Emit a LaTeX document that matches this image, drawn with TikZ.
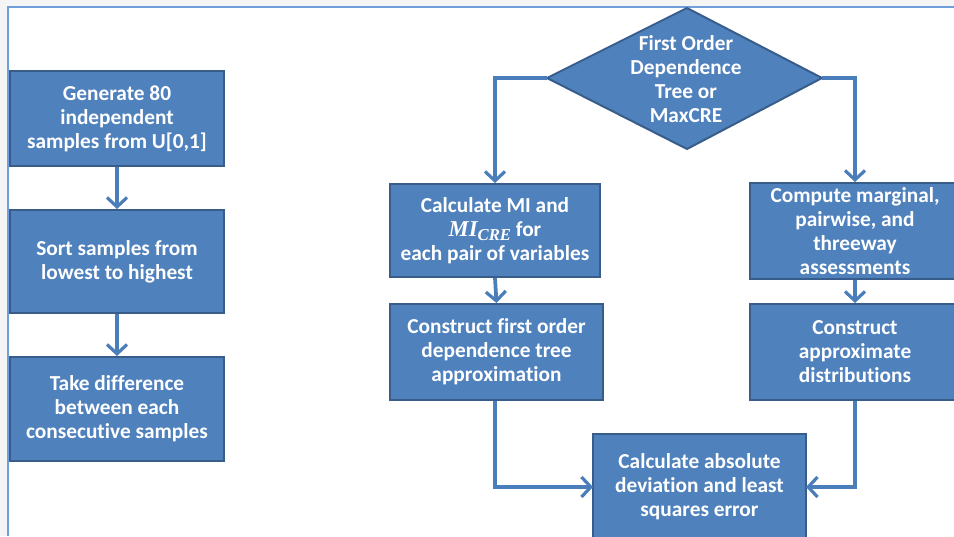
\documentclass[tikz,border=0pt]{standalone}
\usepackage{fontspec}
\setmainfont{Carlito}[Ligatures=NoCommon]
\newfontfamily\serifbi{Liberation Serif}
\usetikzlibrary{arrows.meta}
\definecolor{boxfill}{HTML}{4F81BD}
\definecolor{boxedge}{HTML}{385D8A}
\definecolor{linec}{HTML}{4A7EBB}
\definecolor{framec}{HTML}{6FA0DC}
\tikzset{
  boxtext/.style={text=white, font=\fontsize{16}{18}\selectfont\bfseries, align=center},
  box/.style={boxtext, draw=boxedge, line width=1.5pt, fill=boxfill, inner sep=0pt},
  conn/.style={draw=linec, line width=2.8pt, -{Straight Barb[length=7pt,width=15pt,line width=2.4pt]}},
}
\begin{document}
\begin{tikzpicture}[x=0.75pt,y=-0.75pt]
\useasboundingbox (0,0) rectangle (954,536);
\clip (0,0) rectangle (954,536);
\fill[white] (0,0) rectangle (954,536);
\fill[gray!8] (0,0) rectangle (954,6);
\fill[gray!8] (0,6) rectangle (7,536);
\draw[framec, line width=1.4pt] (8,536) -- (8,7) -- (960,7);
% left column
\node[box, minimum width=214*0.75pt, minimum height=95*0.75pt] (g) at (117,118.5) {Generate 80\\independent\\samples from U[0,1]};
\node[box, minimum width=214*0.75pt, minimum height=103*0.75pt] (s) at (117,261.5) {Sort samples from\\lowest to highest};
\node[box, minimum width=214*0.75pt, minimum height=104*0.75pt] (t) at (117,409) {Take difference\\between each\\consecutive samples};
\draw[conn] (g.south) -- (s.north);
\draw[conn] (s.south) -- (t.north);
% diamond
\path[draw=boxedge, line width=1.5pt, fill=boxfill] (547,78) -- (687,8) -- (822,78) -- (687,149) -- cycle;
\node[boxtext] (d) at (686,79) {First Order\\Dependence\\Tree or\\MaxCRE};
\coordinate (dl) at (547,78);
\coordinate (dr) at (822,78);
% middle column
\node[box, minimum width=210*0.75pt, minimum height=93*0.75pt] (mi) at (495,230.5) {Calculate MI and\\{\serifbi\fontsize{17}{18}\selectfont\bfseries\itshape MI\raisebox{-0.4ex}{\fontsize{12.5}{12}\selectfont CRE}} for\\each pair of variables};
\node[box, minimum width=213*0.75pt, minimum height=96*0.75pt] (c1) at (496.5,352) {Construct first order\\dependence tree\\approximation};
% right column
\node[box, minimum width=210*0.75pt, minimum height=96*0.75pt] (cm) at (855,231) {Compute marginal,\\pairwise, and\\threeway\\assessments};
\node[box, minimum width=210*0.75pt, minimum height=96*0.75pt] (ca) at (855,352) {Construct\\approximate\\distributions};
% bottom
\node[box, minimum width=213*0.75pt, minimum height=112*0.75pt] (b) at (699.5,490) {};
\node[boxtext] (bt) at (699.5,487) {Calculate absolute\\deviation and least\\squares error};
% connectors
\draw[conn] (dl) -| (mi.north);
\draw[conn] (dr) -| (cm.north);
\draw[conn] (mi.south) -- (c1.south |- c1.north);
\draw[conn] (cm.south) -- (ca.north);
\draw[conn] (c1.south -| 495,0) |- (593,487);
\draw[conn] (ca.south) |- (806,487);
\end{tikzpicture}
\end{document}
